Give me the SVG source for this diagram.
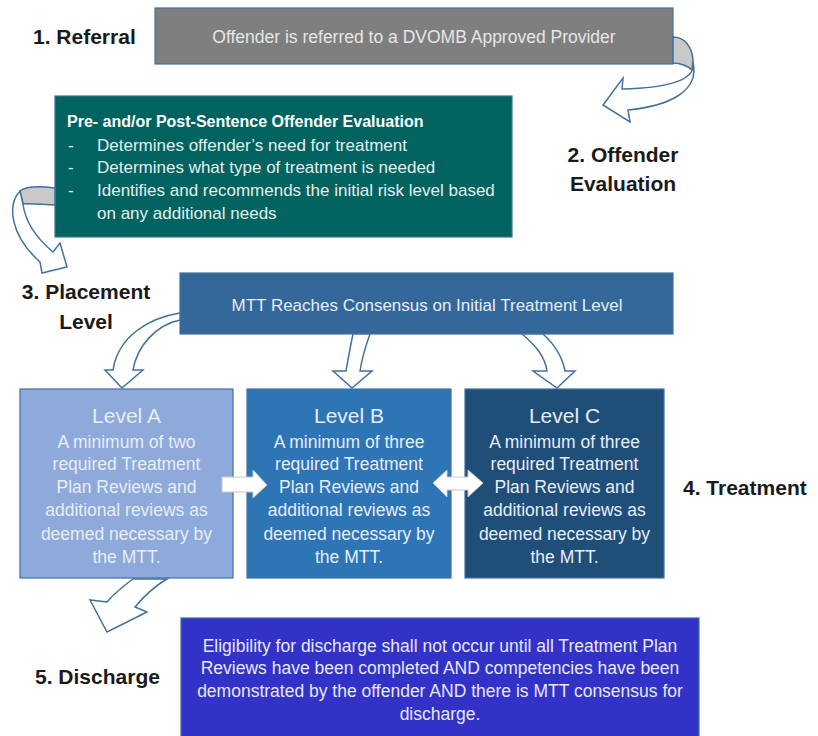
<svg xmlns="http://www.w3.org/2000/svg" width="818" height="736" viewBox="0 0 818 736">
<style>
  text { font-family: "Liberation Sans", Arial, sans-serif; }
  .lbl { font-weight: bold; font-size: 21px; fill: #1a1a1a; }
  .box { stroke: #41719c; stroke-width: 1.2; }
  .w { fill: #ffffff; }
  .lt { fill: #e8edf5; }
  .cen { text-anchor: middle; }
  .arr { fill: #ffffff; stroke: #41719c; stroke-width: 1.5; stroke-linejoin: miter; }
  .back { fill: #c9c9c9; stroke: #41719c; stroke-width: 1.5; }
  .blk { fill: #ffffff; stroke: #c8c8c8; stroke-width: 1; }
</style>
<rect width="818" height="736" fill="#ffffff"/>

<g id="labels">
  <text class="lbl" x="33" y="44">1. Referral</text>
  <text class="lbl cen" x="623" y="162">2. Offender</text>
  <text class="lbl cen" x="623" y="191">Evaluation</text>
  <text class="lbl cen" x="86" y="299">3. Placement</text>
  <text class="lbl cen" x="86" y="329">Level</text>
  <text class="lbl" x="683" y="495">4. Treatment</text>
  <text class="lbl" x="35" y="684">5. Discharge</text>
</g>

<g id="referral">
  <rect class="box" x="155" y="8" width="518" height="56" fill="#7f7f7f"/>
  <text class="cen" x="414" y="43" font-size="17.5" fill="#e6e6e6">Offender is referred to a DVOMB Approved Provider</text>
</g>

<g id="evaluation">
  <rect class="box" x="55" y="96" width="457" height="141" fill="#00635f"/>
  <text x="67" y="127" font-size="16" font-weight="bold" fill="#ffffff">Pre- and/or Post-Sentence Offender Evaluation</text>
  <g font-size="17" fill="#e6eeee">
    <text x="68" y="151">-</text><text x="97" y="151">Determines offender’s need for treatment</text>
    <text x="68" y="173">-</text><text x="97" y="173">Determines what type of treatment is needed</text>
    <text x="68" y="196">-</text><text x="97" y="196">Identifies and recommends the initial risk level based</text>
    <text x="97" y="219">on any additional needs</text>
  </g>
</g>

<g id="mtt">
  <rect class="box" x="180" y="273" width="493" height="61" fill="#34679a"/>
  <text class="cen" x="427" y="311" font-size="17" fill="#e8edf5">MTT Reaches Consensus on Initial Treatment Level</text>
</g>

<g id="levelA">
  <rect class="box" x="20" y="389" width="213" height="189" fill="#8eaadb"/>
  <text class="cen lt" x="126.5" y="423" font-size="21">Level A</text>
  <g class="cen lt" font-size="17.5">
    <text x="126.5" y="448">A minimum of two</text>
    <text x="126.5" y="470">required Treatment</text>
    <text x="126.5" y="493">Plan Reviews and</text>
    <text x="126.5" y="516">additional reviews as</text>
    <text x="126.5" y="540">deemed necessary by</text>
    <text x="126.5" y="563">the MTT.</text>
  </g>
</g>

<g id="levelB">
  <rect class="box" x="247" y="389" width="204" height="189" fill="#2e75b6"/>
  <text class="cen lt" x="349" y="423" font-size="21">Level B</text>
  <g class="cen lt" font-size="17.5">
    <text x="349" y="448">A minimum of three</text>
    <text x="349" y="470">required Treatment</text>
    <text x="349" y="493">Plan Reviews and</text>
    <text x="349" y="516">additional reviews as</text>
    <text x="349" y="540">deemed necessary by</text>
    <text x="349" y="563">the MTT.</text>
  </g>
</g>

<g id="levelC">
  <rect class="box" x="465" y="389" width="199" height="189" fill="#1f4e79"/>
  <text class="cen lt" x="564.5" y="423" font-size="21">Level C</text>
  <g class="cen lt" font-size="17.5">
    <text x="564.5" y="448">A minimum of three</text>
    <text x="564.5" y="470">required Treatment</text>
    <text x="564.5" y="493">Plan Reviews and</text>
    <text x="564.5" y="516">additional reviews as</text>
    <text x="564.5" y="540">deemed necessary by</text>
    <text x="564.5" y="563">the MTT.</text>
  </g>
</g>

<g id="discharge">
  <rect class="box" x="181" y="618" width="518" height="120" fill="#3232c8"/>
  <g class="cen" font-size="17.5" fill="#e8e8f8">
    <text x="440" y="652">Eligibility for discharge shall not occur until all Treatment Plan</text>
    <text x="440" y="674">Reviews have been completed AND competencies have been</text>
    <text x="440" y="697">demonstrated by the offender AND there is MTT consensus for</text>
    <text x="440" y="720">discharge.</text>
  </g>
</g>

<g id="connectors">
  <!-- referral to evaluation -->
  <path class="back" d="M673,37 C684,37 692,46 693,60 L692,70 C688,66 680,63 673,63 Z"/>
  <path class="arr" d="M693,62 C697,80 668,88 622,89 L623,78 L603,105 L630,122 L628,110 C668,106 700,92 693,62 Z"/>
  <!-- evaluation to placement -->
  <path class="back" d="M55,188 C40,186 26,186 20,191 L23,204 C32,203 45,205 55,205 Z"/>
  <path class="arr" d="M20,191 C7,205 10,235 40,262 L42,273 L67,267 L60,243 L53,252 C34,236 25,220 23,204 Z"/>
  <!-- MTT to levels -->
  <path class="arr" d="M180,313 C148,318 118,337 113,370 L105,370 L122,388 L143,370 L133,370 C137,346 156,325 180,320 Z"/>
  <path class="arr" d="M353,334 C350,348 348,360 346,371 L333,371 L352,388 L372,371 L360,371 C362,358 366,345 370,334 Z"/>
  <path class="arr" d="M522,334 C535,345 545,356 547,371 L533,371 L557,388 L575,371 L565,371 C562,355 553,343 543,334 Z"/>
  <!-- level transitions -->
  <path class="blk" d="M222,477 L253,477 L253,470 L267,485 L253,498 L253,492 L222,492 Z"/>
  <path class="blk" d="M433,483 L447,470 L447,477 L468,477 L468,470 L483,483 L468,497 L468,490 L447,490 L447,497 Z"/>
  <!-- level A to discharge -->
  <path class="arr" d="M133,579 C122,587 113,595 107,602 L90,600 L107,632 L147,612 L135,607 C145,595 155,586 167,579 Z"/>
</g>
</svg>
